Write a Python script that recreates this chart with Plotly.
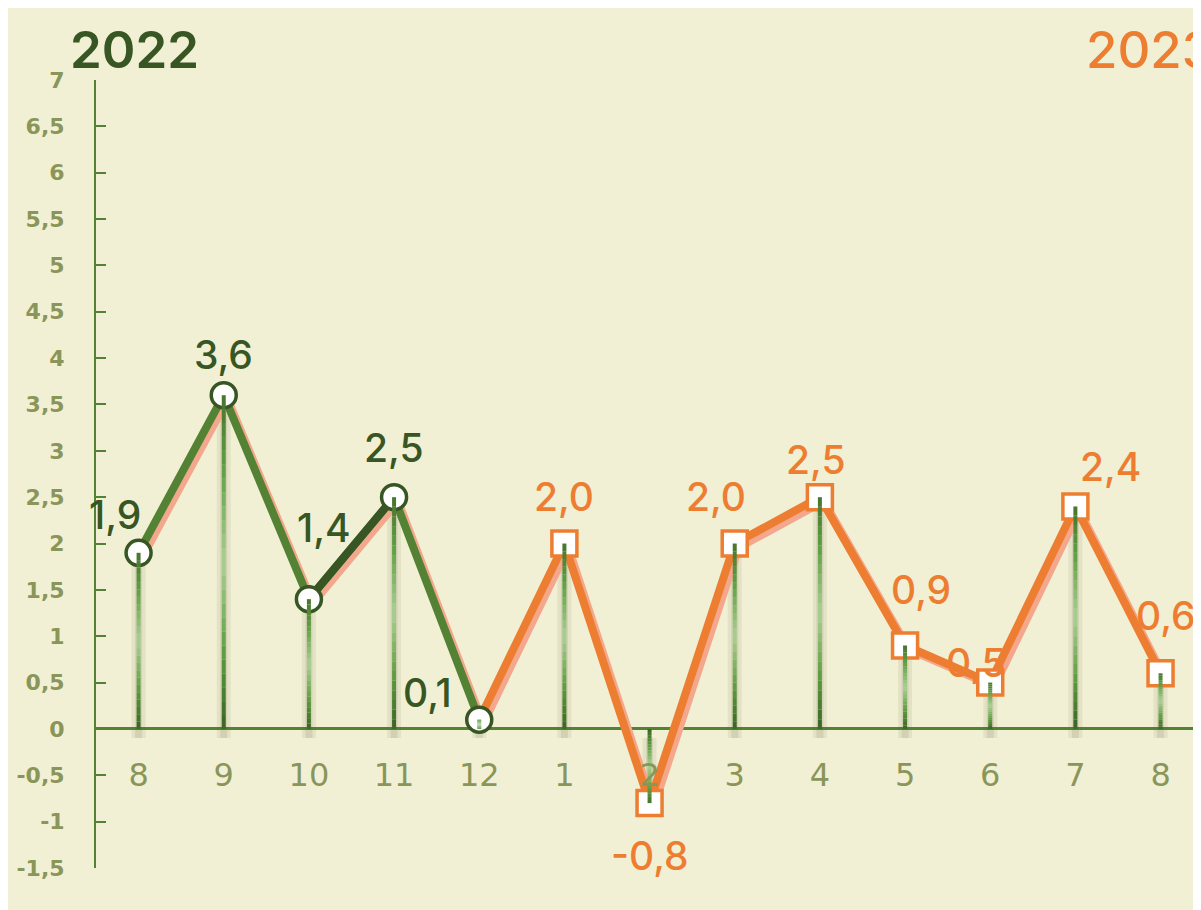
import plotly.graph_objects as go

# ---- data ----
months = ["8", "9", "10", "11", "12", "1", "2", "3", "4", "5", "6", "7", "8"]
values = [1.9, 3.6, 1.4, 2.5, 0.1, 2.0, -0.8, 2.0, 2.5, 0.9, 0.5, 2.4, 0.6]
n_2022 = 5  # first five months belong to 2022
year_titles = ["2022", "2023"]
y_tickvals = [-1.5, -1, -0.5, 0, 0.5, 1, 1.5, 2, 2.5, 3, 3.5, 4, 4.5, 5, 5.5, 6, 6.5, 7]
y_ticktext = ["-1,5", "-1", "-0,5", "0", "0,5", "1", "1,5", "2", "2,5", "3", "3,5",
              "4", "4,5", "5", "5,5", "6", "6,5", "7"]

# ---- style ----
W, H = 1201, 910
ML, MR, MT, MB = 83, 8, 72, 50
CREAM = "#F1F0D4"
GREEN = "#548235"
DKGREEN = "#375623"
ORANGE = "#ED7D31"
SALMON = "#F3A78C"
OLIVE = "#8A9659"
FONT = "DejaVu Sans"
LFONT = "Inter"
# vertical gradient stops of the drop lines (bottom -> top)
grad_stops = [(0.0, (58, 100, 35)), (0.22, (92, 155, 62)), (0.5, (170, 208, 148)),
              (0.78, (96, 160, 66)), (1.0, (72, 116, 44))]
nseg = 24
# label offsets (pixels) per point
label_dx = [-24, 0, 15, 0, -52, 0, 0, -19, -4, 16, -14, 35, 5]
label_dy = [38, 41, 72, 50, 27, 47, -52, 47, 38, 56, 20, 40, 58]


def grad_color(t):
    for (t0, c0), (t1, c1) in zip(grad_stops[:-1], grad_stops[1:]):
        if t0 <= t <= t1:
            f = (t - t0) / (t1 - t0)
            r, g, b = (round(a + (bb - a) * f) for a, bb in zip(c0, c1))
            return f"rgb({r},{g},{b})"
    return "rgb(72,116,44)"


idx = list(range(len(months)))
labels = [f"{v:.1f}".replace(".", ",") for v in values]

xr = [-0.5, 12.475]
yr = [-1.5, 7]
pw = W - ML - MR
ph = H - MT - MB
dx_unit = (xr[1] - xr[0]) / pw
dy_unit = (yr[1] - yr[0]) / ph
sh = 4      # line shadow offset px
hs = 9      # drop-line halo offset px (downwards)
xr_sh = [xr[0] - sh * dx_unit, xr[1] - sh * dx_unit]
yr_sh = [yr[0] + sh * dy_unit, yr[1] + sh * dy_unit]
yr_halo = [yr[0] + hs * dy_unit, yr[1] + hs * dy_unit]

i22 = idx[:n_2022]
v22 = values[:n_2022]
i23 = idx[n_2022 - 1:]
v23 = values[n_2022 - 1:]

drop_x, drop_y = [], []
for i, v in zip(idx, values):
    drop_x += [i, i, None]
    drop_y += [v, 0, None]

fig = go.Figure()

# drop-line halo (base axes, shifted down)
fig.add_trace(go.Scatter(x=drop_x, y=drop_y, mode="lines", xaxis="x", yaxis="y",
                         line=dict(color="rgba(90,90,50,0.09)", width=14),
                         hoverinfo="skip", showlegend=False))
fig.add_trace(go.Scatter(x=drop_x, y=drop_y, mode="lines", xaxis="x", yaxis="y",
                         line=dict(color="rgba(90,90,50,0.12)", width=7),
                         hoverinfo="skip", showlegend=False))

# line shadows (x2/y2, offset)
fig.add_trace(go.Scatter(x=i22, y=v22, mode="lines", xaxis="x2", yaxis="y2",
                         line=dict(color=SALMON, width=8), hoverinfo="skip", showlegend=False))
fig.add_trace(go.Scatter(x=i23, y=v23, mode="lines", xaxis="x2", yaxis="y2",
                         line=dict(color=SALMON, width=8), hoverinfo="skip", showlegend=False))

# main lines
fig.add_trace(go.Scatter(x=i22, y=v22, mode="lines", xaxis="x3", yaxis="y3",
                         line=dict(color=GREEN, width=8), showlegend=False))
fig.add_trace(go.Scatter(x=idx[2:4], y=values[2:4], mode="lines", xaxis="x3", yaxis="y3",
                         line=dict(color=DKGREEN, width=8), showlegend=False))
fig.add_trace(go.Scatter(x=i23, y=v23, mode="lines", xaxis="x3", yaxis="y3",
                         line=dict(color=ORANGE, width=8), showlegend=False))

# markers
fig.add_trace(go.Scatter(x=i22, y=v22, mode="markers", xaxis="x3", yaxis="y3",
                         marker=dict(symbol="circle", size=25, color="white",
                                     line=dict(color=DKGREEN, width=3.5)),
                         showlegend=False))
fig.add_trace(go.Scatter(x=idx[n_2022:], y=values[n_2022:], mode="markers", xaxis="x3", yaxis="y3",
                         marker=dict(symbol="square", size=25, color="white",
                                     line=dict(color=ORANGE, width=3.5)),
                         showlegend=False))

# drop lines with a vertical colour gradient
for k in range(nseg):
    sx, sy = [], []
    for i, v in zip(idx, values):
        sx += [i, i, None]
        sy += [v * k / nseg, v * (k + 1) / nseg, None]
    fig.add_trace(go.Scatter(x=sx, y=sy, mode="lines", xaxis="x3", yaxis="y3",
                             line=dict(color=grad_color((k + 0.5) / nseg), width=4, simplify=False),
                             hoverinfo="skip", showlegend=False))

annotations = []
for i, v, t, ddx, ddy in zip(idx, values, labels, label_dx, label_dy):
    annotations.append(dict(x=i, y=v, xref="x3", yref="y3", text=t, showarrow=False,
                            xshift=ddx, yshift=ddy,
                            font=dict(family=LFONT, size=39, weight=500,
                                      color=DKGREEN if i < n_2022 else ORANGE)))
annotations.append(dict(x=(122 - ML) / pw, y=(H - MB - 42) / ph, xref="paper", yref="paper",
                        text=year_titles[0], showarrow=False, xanchor="center", yanchor="middle",
                        font=dict(family=LFONT, size=51, weight=600, color=DKGREEN)))
annotations.append(dict(x=(1075 - ML) / pw, y=(H - MB - 42) / ph, xref="paper", yref="paper",
                        text=year_titles[1], showarrow=False, xanchor="left", yanchor="middle",
                        font=dict(family=LFONT, size=51, weight=500, color=ORANGE)))

zero_pos = (0 - yr[0]) / (yr[1] - yr[0])

hidden = dict(visible=False, fixedrange=True, showgrid=False, zeroline=False)
fig.update_layout(
    width=W, height=H,
    margin=dict(l=ML, r=MR, t=MT, b=MB),
    paper_bgcolor=CREAM, plot_bgcolor="rgba(0,0,0,0)",
    showlegend=False,
    xaxis=dict(range=xr, **hidden),
    yaxis=dict(range=yr_halo, **hidden),
    xaxis2=dict(range=xr_sh, overlaying="x", anchor="y2", **hidden),
    yaxis2=dict(range=yr_sh, overlaying="y", anchor="x2", **hidden),
    xaxis3=dict(range=xr, overlaying="x", anchor="free", position=zero_pos,
                showline=False, showgrid=False, zeroline=False,
                tickmode="array", tickvals=idx, ticktext=months, ticks="",
                ticklabelstandoff=24,
                tickfont=dict(family=FONT, size=32, color=OLIVE), layer="above traces"),
    yaxis3=dict(range=yr, overlaying="y", anchor="x3", side="left",
                showline=True, linecolor=GREEN, linewidth=2, showgrid=False,
                zeroline=True, zerolinecolor=GREEN, zerolinewidth=3,
                tickmode="array", tickvals=y_tickvals, ticktext=y_ticktext,
                ticks="inside", ticklen=10, tickwidth=2, tickcolor=GREEN,
                ticklabelstandoff=25,
                tickfont=dict(family=FONT, size=22, color=OLIVE, weight="bold"),
                layer="below traces"),
    annotations=annotations,
)

fig.write_html("out.html")
